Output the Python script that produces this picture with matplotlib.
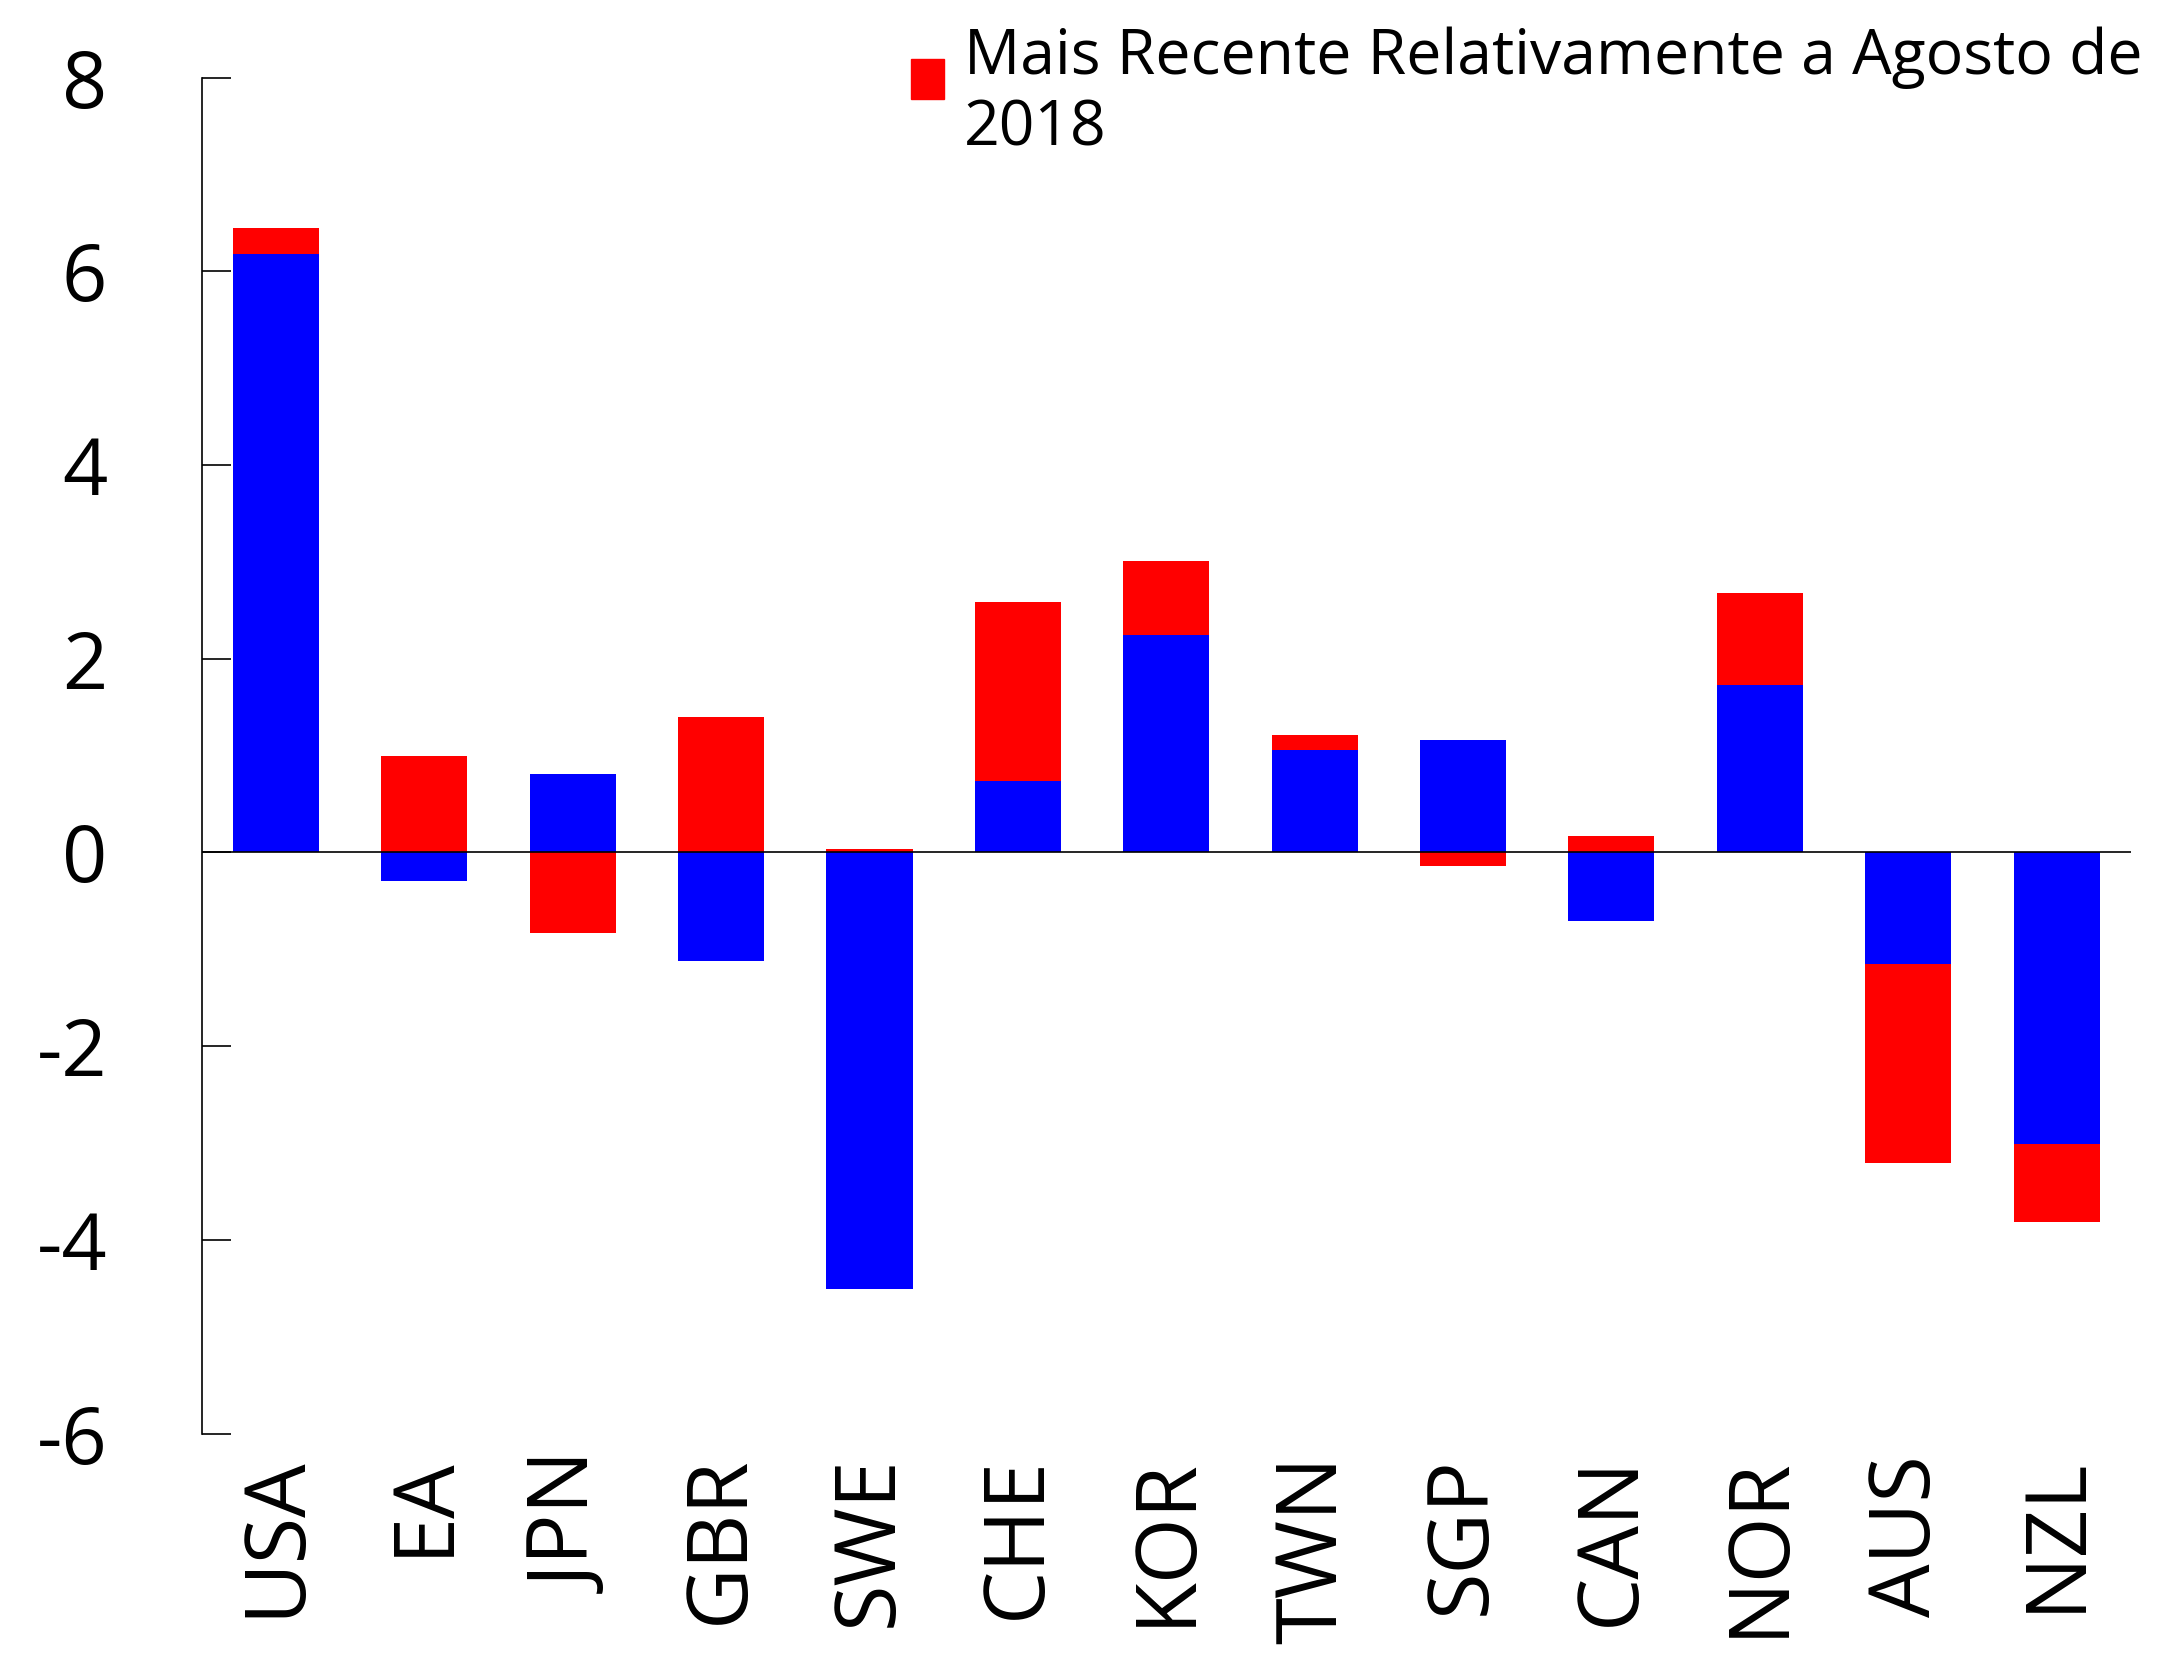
import numpy as np
import matplotlib
matplotlib.use("Agg")
import matplotlib.pyplot as plt
from matplotlib.patches import Patch, Rectangle
from matplotlib.legend_handler import HandlerPatch

plt.rcParams['font.family'] = ['Open Sans', 'DejaVu Sans']
plt.rcParams['axes.unicode_minus'] = False

countries = ["USA", "EA", "JPN", "GBR", "SWE", "CHE", "KOR", "TWN", "SGP", "CAN", "NOR", "AUS", "NZL"]
# valor de Agosto de 2018 (azul) e variacao mais recente (vermelho)
agosto_2018 = [6.18, -0.30, 0.81, -1.12, -4.51, 0.74, 2.24, 1.06, 1.16, -0.71, 1.73, -1.15, -3.01]
variacao = [0.27, 1.00, -0.83, 1.40, 0.03, 1.85, 0.77, 0.15, -0.14, 0.17, 0.95, -2.06, -0.81]
legend_label = "Mais Recente Relativamente a Agosto de\n2018"

blue = np.array(agosto_2018)
red = np.array(variacao)
x = np.arange(len(countries))
# empilhar do mesmo lado que o azul, senao a partir de zero
red_bottom = np.where(np.sign(red) == np.sign(blue), blue, 0)

fig = plt.figure(figsize=(21.81, 16.54), dpi=100)
ax = fig.add_axes([0.0925, 0.1333, 0.8845, 0.8198])

ax.bar(x, blue, width=0.58, color="#0000ff")
ax.bar(x, red, width=0.58, bottom=red_bottom, color="#ff0000")
ax.axhline(0, color="black", lw=1.2)

ax.set_xlim(-0.5, 12.5)
ax.set_ylim(-6, 8)
ax.set_yticks(np.arange(-6, 9, 2))
ax.set_xticks(x, countries, rotation=90, fontsize=61)
ax.tick_params(axis="x", length=0, pad=16)
ax.tick_params(axis="y", direction="in", length=21, width=1.2, pad=68, labelsize=57)
for lab in ax.get_yticklabels():
    lab.set_horizontalalignment("right")
    lab.set_verticalalignment("center_baseline")

for s in ["top", "right", "bottom"]:
    ax.spines[s].set_visible(False)
ax.spines["left"].set_linewidth(1.2)


def raised_box(legend, orig_handle, xdescent, ydescent, width, height, fontsize):
    # quadrado um pouco acima do centro das duas linhas
    return Rectangle((-xdescent, -ydescent + 12), width, height)


ax.legend(handles=[Patch(color="#ff0000", label=legend_label)], loc="upper left",
          bbox_to_anchor=(0.4177, 0.984), bbox_transform=fig.transFigure,
          frameon=False, fontsize=45, handlelength=0.53, handleheight=0.62,
          handletextpad=0.32, borderpad=0, borderaxespad=0,
          handler_map={Patch: HandlerPatch(patch_func=raised_box)})

plt.savefig("out.png", dpi=100)
